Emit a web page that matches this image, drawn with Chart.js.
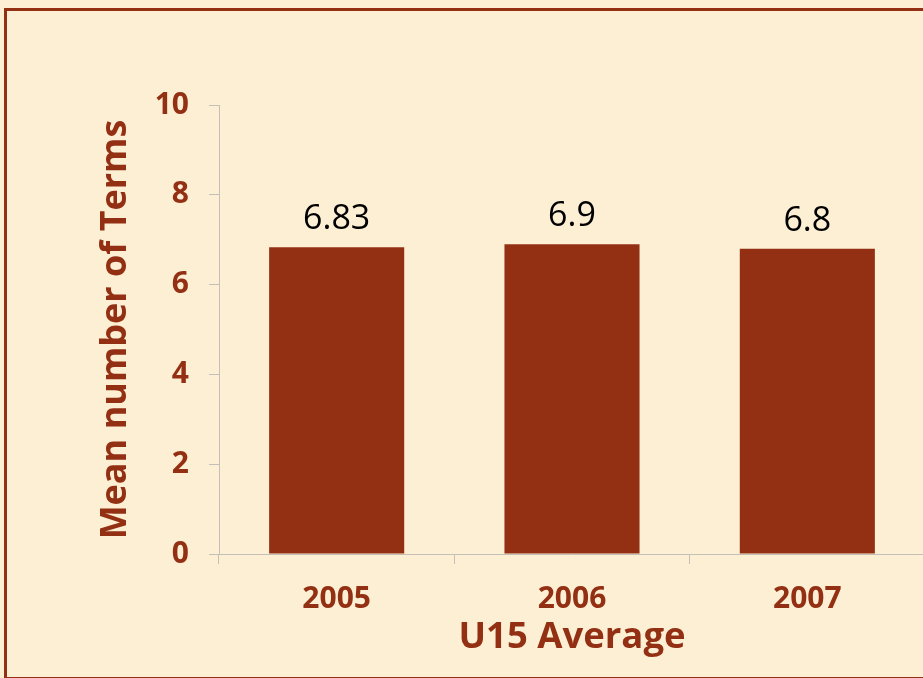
<!DOCTYPE html>
<html>
<head>
<meta charset="utf-8">
<script src="https://cdn.jsdelivr.net/npm/chart.js@4"></script>
<style>
  html, body { margin: 0; padding: 0; overflow: hidden; background: #fcefd4; }
  body { width: 923px; height: 678px; position: relative; }
  #frame {
    position: absolute; left: 4px; top: 8px; width: 940px; height: 666px;
    border: 3px solid #933013; border-right: none;
  }
  #chart { position: absolute; left: 0; top: 0; }
</style>
</head>
<body>
<div id="frame"></div>
<canvas id="chart" width="945" height="678"></canvas>
<script>
const years = ["2005", "2006", "2007"];
const meanTerms = [6.83, 6.9, 6.8];
const yTicks = [0, 2, 4, 6, 8, 10];

const brown = "#933013";
const axisGray = "#c4c0b8";

const valueLabels = {
    id: "valueLabels",
    afterDatasetsDraw(chart) {
        const ctx = chart.ctx;
        const meta = chart.getDatasetMeta(0);
        ctx.save();
        ctx.font = "34px 'Open Sans'";
        ctx.fillStyle = "#000";
        ctx.textAlign = "center";
        ctx.textBaseline = "alphabetic";
        meta.data.forEach((bar, i) => {
            ctx.fillText(String(meanTerms[i]), bar.x, bar.y - 18);
        });
        ctx.restore();
    }
};

const ctx = document.getElementById("chart").getContext("2d");

new Chart(ctx, {
    type: "bar",
    data: {
        labels: years,
        datasets: [{
            data: meanTerms,
            backgroundColor: brown,
            borderWidth: 0,
            barPercentage: 0.574,
            categoryPercentage: 1
        }]
    },
    options: {
        responsive: false,
        animation: false,
        layout: { padding: { top: 105, right: 20, bottom: 0, left: 0 } },
        plugins: {
            legend: { display: false },
            tooltip: { enabled: false }
        },
        scales: {
            x: {
                afterFit: s => { s.height = 124; },
                grid: { drawOnChartArea: false, drawTicks: true, tickLength: 10, color: axisGray },
                border: { color: axisGray, width: 1 },
                ticks: {
                    color: brown,
                    padding: 17,
                    font: { family: "'Open Sans'", size: 30, weight: "bold" }
                },
                title: {
                    display: true,
                    text: "U15 Average",
                    color: brown,
                    padding: { top: 0, bottom: 18 },
                    font: { family: "'Open Sans'", size: 36.5, weight: "bold" }
                }
            },
            y: {
                min: 0,
                max: 10,
                afterFit: s => { s.width = 219; },
                afterBuildTicks: s => { s.ticks = yTicks.map(v => ({ value: v })); },
                grid: { drawOnChartArea: false, drawTicks: true, tickLength: 10, color: axisGray },
                border: { color: axisGray, width: 1 },
                ticks: {
                    color: brown,
                    padding: 20,
                    font: { family: "'Open Sans'", size: 30, weight: "bold" }
                },
                title: {
                    display: true,
                    text: "Mean number of Terms",
                    color: brown,
                    padding: { top: 94, bottom: 0 },
                    font: { family: "'Open Sans'", size: 36, weight: "bold" }
                }
            }
        }
    },
    plugins: [valueLabels]
});
</script>
</body>
</html>
